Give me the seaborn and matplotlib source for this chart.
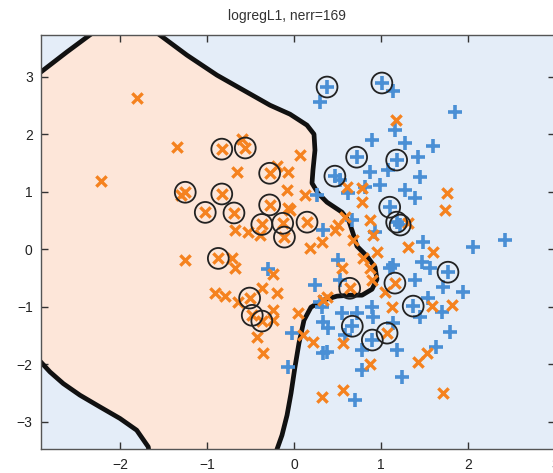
import numpy as np
import pandas as pd
import matplotlib
matplotlib.use("Agg")
import matplotlib.pyplot as plt
import seaborn as sns

# ---------------- data ----------------
orange_x = [-1.80, -2.22, -1.34, -1.25, -0.83, -0.56, -0.60, -0.66, -0.28, -0.20,
            -0.07, -1.25, -1.30, -0.83, -0.08, -0.28, -0.07, -1.02, -0.69, -0.37,
            -0.13, -0.11, -0.68, -0.53, -0.39, -0.87, -0.71, -0.68, -0.24, -0.91,
            -0.79, -0.51, -0.64, -0.37, -0.20, -0.48, -0.37, -0.24, -0.24, -0.43,
            -0.36, 0.07, 0.15, 0.13, -0.05, 0.47, 0.32, 0.18, 0.59, 0.61,
            0.78, 0.78, 0.87, 0.91, 0.68, 0.51, 1.31, 0.95, 0.79, 0.55,
            0.87, 0.64, 0.90, 1.05, 1.16, 0.38, 0.05, 0.10, 0.22, 0.33,
            0.56, 1.07, 1.13, 0.87, 0.56, 0.32, 1.43, 1.53, 1.71, 1.60,
            1.59, 1.82, 1.76, 1.74, 1.17, 1.31]
orange_y = [2.63, 1.18, 1.77, -0.19, 1.74, 1.76, 1.91, 1.34, 1.32, 1.44,
            1.34, 0.99, 0.94, 0.96, 1.03, 0.77, 0.71, 0.64, 0.63, 0.43,
            0.45, 0.21, 0.33, 0.30, 0.24, -0.16, -0.16, -0.33, -0.43, -0.77,
            -0.82, -0.85, -0.92, -0.68, -0.77, -1.15, -1.25, -1.06, -1.23, -1.53,
            -1.81, 1.63, 0.47, 0.94, 0.68, 0.33, 0.12, 0.02, 0.56, 1.08,
            0.82, 1.06, 0.50, 0.24, 0.16, 0.42, 0.03, -0.05, -0.16, -0.33,
            -0.33, -0.68, -0.54, -0.75, -0.59, -0.83, -1.11, -1.50, -1.62, -0.89,
            -1.63, -1.46, -1.01, -2.00, -2.45, -2.57, -1.97, -1.81, -2.50, -0.05,
            -0.99, -0.97, 0.97, 0.68, 2.24, 0.45]
orange_circled = [0, 0, 0, 0, 1, 1, 0, 0, 1, 0,
                  0, 1, 0, 1, 0, 1, 0, 1, 1, 1,
                  1, 1, 0, 0, 0, 1, 0, 0, 0, 0,
                  0, 1, 0, 0, 0, 1, 1, 0, 0, 0,
                  0, 0, 1, 0, 0, 0, 0, 0, 0, 0,
                  0, 0, 0, 0, 0, 0, 0, 0, 0, 0,
                  0, 1, 0, 0, 1, 0, 0, 0, 0, 0,
                  0, 1, 0, 0, 0, 0, 0, 0, 0, 0,
                  0, 0, 0, 0, 0, 0]

blue_x = [0.38, 0.30, 1.01, 1.14, 1.16, 0.90, 1.28, 1.43, 1.60, 1.85,
          0.72, 1.18, 1.45, 0.47, 0.87, 1.08, 0.99, 0.82, 1.28, 1.39,
          0.26, 0.53, 1.10, 1.18, 1.22, 0.67, 0.33, 0.93, 1.48, 2.06,
          2.43, 1.47, 1.56, 1.77, 1.14, 1.71, 1.94, 1.54, 1.37, 1.70,
          1.45, 1.79, 1.63, 1.24, 0.70, 0.51, 1.10, 0.24, 0.53, 1.39,
          0.30, 0.32, 0.33, 0.39, 0.33, 0.67, 0.59, 0.55, 0.72, 0.90,
          0.91, 0.90, 1.14, 1.18, 0.78, 0.78, -0.30, -0.02, -0.07, 0.38,
          0.62]
blue_y = [2.82, 2.56, 2.89, 2.75, 2.07, 1.90, 1.84, 1.60, 1.79, 2.38,
          1.60, 1.55, 1.25, 1.27, 1.34, 1.37, 1.11, 1.08, 1.03, 0.89,
          0.94, 1.20, 0.73, 0.47, 0.42, 0.50, 0.33, 0.30, 0.12, 0.03,
          0.16, -0.23, -0.33, -0.40, -0.28, -0.66, -0.75, -0.85, -0.99, -1.10,
          -1.18, -1.44, -1.70, -2.23, -2.63, -0.19, -0.33, -0.63, -0.54, -0.54,
          -0.92, -1.01, -1.27, -1.37, -1.81, -1.34, -1.50, -1.11, -1.11, -1.58,
          -1.18, -1.01, -1.29, -1.76, -1.76, -2.10, -0.35, -1.46, -2.05, -1.78,
          0.98]
blue_circled = [1, 0, 1, 0, 0, 0, 0, 0, 0, 0,
                1, 1, 0, 1, 0, 0, 0, 0, 0, 0,
                0, 0, 1, 1, 1, 0, 0, 0, 0, 0,
                0, 0, 0, 1, 0, 0, 0, 0, 1, 0,
                0, 0, 0, 0, 0, 0, 0, 0, 0, 0,
                0, 0, 0, 0, 0, 1, 0, 0, 0, 1,
                0, 0, 0, 0, 0, 0, 0, 0, 0, 0,
                0]

# decision boundary pieces
bnd_a_x = [-3.00, -2.91, -2.61, -2.28]
bnd_a_y = [2.97, 3.08, 3.43, 3.80]

bnd_mid_x = [-1.66, -1.540, -1.230, -0.885, -0.540, -0.276, -0.046, 0.149, 0.230, 0.241,
             0.218, 0.207, 0.276, 0.379, 0.552, 0.632, 0.678, 0.724, 0.839, 0.931,
             0.954, 0.897, 0.782, 0.644, 0.494, 0.333, 0.195, 0.115, 0.057, 0.011,
             -0.034, -0.080, -0.138, -0.195, -0.207]
bnd_mid_y = [3.86, 3.722, 3.374, 3.026, 2.730, 2.504, 2.348, 2.157, 2.000, 1.722,
             1.374, 1.148, 0.974, 0.817, 0.643, 0.487, 0.278, 0.052, -0.122, -0.313,
             -0.522, -0.696, -0.800, -0.800, -0.817, -0.887, -1.009, -1.235, -1.635, -2.052,
             -2.504, -2.887, -3.235, -3.478, -3.583]

bnd_c_x = [-3.00, -2.911, -2.805, -2.652, -2.460, -2.230, -2.000, -1.808, -1.675, -1.667]
bnd_c_y = [-1.82, -1.960, -2.134, -2.337, -2.539, -2.743, -2.944, -3.148, -3.438, -3.530]

title = "logregL1, nerr=169"
xticks = [-2, -1, 0, 1, 2, 3]
yticks = [-3, -2, -1, 0, 1, 2, 3]
xlim = (-2.908, 3.0)
ylim = (-3.48, 3.73)

# ---------------- styling ----------------
ORANGE = "#F5821F"
BLUE = "#4A8FD5"
BG_ORANGE = "#FDE6D9"
BG_BLUE = "#E4EDF8"

sns.set_theme(style="white")
plt.rcParams["font.family"] = ["Liberation Sans", "DejaVu Sans"]

W, H = 553, 473
fig = plt.figure(figsize=(W / 100, H / 100), dpi=100)
ax = fig.add_axes([41 / W, (H - 449.3) / H, 514 / W, (449.3 - 34.7) / H])
ax.set_facecolor(BG_BLUE)

# orange class region
poly_x = bnd_a_x + [-2.2, -1.7] + bnd_mid_x + [-1.66] + bnd_c_x[::-1] + [-3.1]
poly_y = bnd_a_y + [3.95, 3.95] + bnd_mid_y + [-3.62] + bnd_c_y[::-1] + [-1.70]
ax.fill(poly_x, poly_y, color=BG_ORANGE, lw=0, zorder=0)

# boundary lines
for bx, by in [(bnd_a_x, bnd_a_y), (bnd_mid_x, bnd_mid_y), (bnd_c_x, bnd_c_y)]:
    sns.lineplot(x=bx, y=by, sort=False, estimator=None, color="#111111",
                 lw=3.4, ax=ax, zorder=2, solid_capstyle="butt")

df_o = pd.DataFrame({"x": orange_x, "y": orange_y, "c": orange_circled})
df_b = pd.DataFrame({"x": blue_x, "y": blue_y, "c": blue_circled})

sns.scatterplot(data=df_b, x="x", y="y", marker="+", s=95, linewidth=2.6,
                color=BLUE, ax=ax, zorder=3)
sns.scatterplot(data=df_o, x="x", y="y", marker="x", s=55, linewidth=2.4,
                color=ORANGE, ax=ax, zorder=4)

circ = pd.concat([df_o[df_o.c == 1], df_b[df_b.c == 1]])
ax.scatter(circ["x"], circ["y"], s=225, facecolors="none", edgecolors="#222222",
           linewidths=1.3, zorder=5)

ax.set_xlim(*xlim)
ax.set_ylim(*ylim)
ax.set_xticks(xticks)
ax.set_yticks(yticks)
ax.set_xticklabels([str(t).replace("-", "\u2212") for t in xticks])
ax.set_yticklabels([str(t).replace("-", "\u2212") for t in yticks])
ax.set_xlabel("")
ax.set_ylabel("")
ax.tick_params(direction="in", length=5, width=1, color="#333333",
               labelsize=10, labelcolor="#222222", top=True, right=True,
               bottom=True, left=True, pad=6)
for sp in ax.spines.values():
    sp.set_color("#555555")
    sp.set_linewidth(1.0)

fig.text(287 / W, 1 - 16 / H, title, ha="center", va="center",
         fontsize=10, color="#333333")

fig.savefig("out.png", dpi=100)
